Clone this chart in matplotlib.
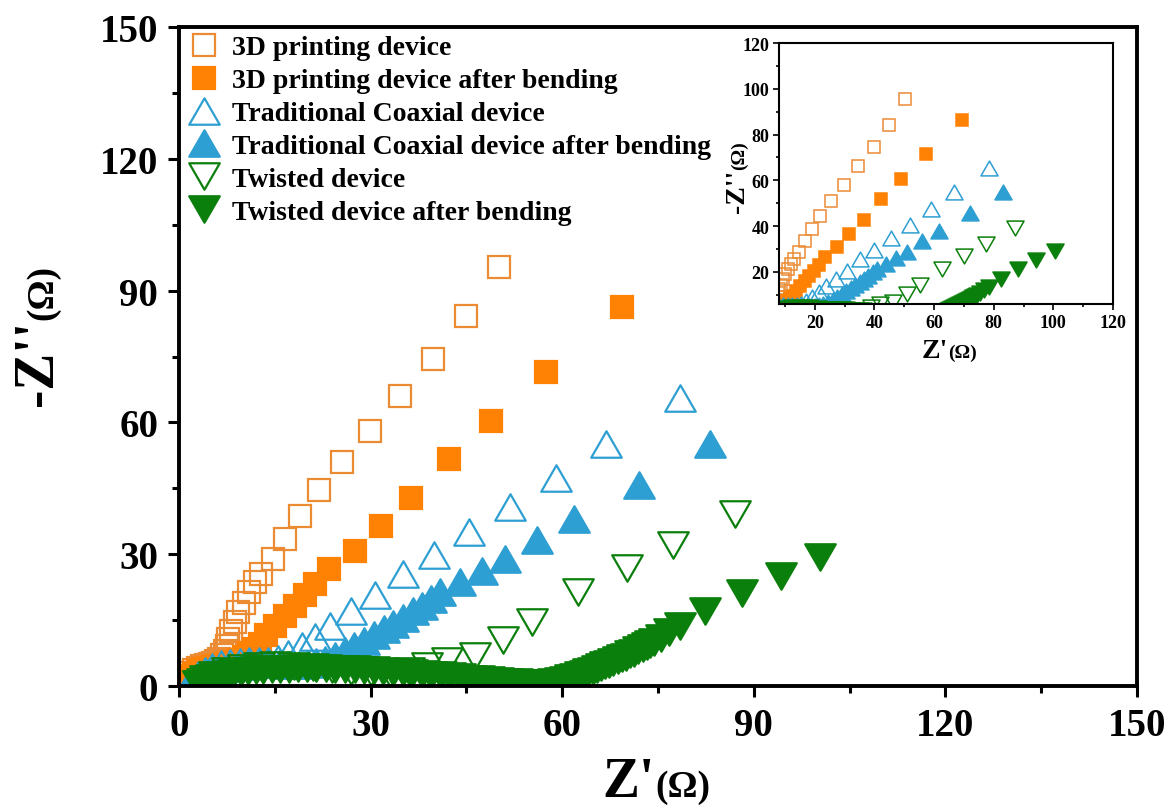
import matplotlib
matplotlib.use("Agg")
import matplotlib.pyplot as plt
import matplotlib.path as mpath
from matplotlib.ticker import MultipleLocator

plt.rcParams['font.family'] = ['Liberation Serif', 'DejaVu Serif']
plt.rcParams['font.weight'] = 'bold'

# Nyquist data, Z' and -Z'' in ohm
labels = ["3D printing device",
          "3D printing device after bending",
          "Traditional Coaxial device",
          "Traditional Coaxial device after bending",
          "Twisted device",
          "Twisted device after bending"]

print_x = [0.6, 0.9, 1.3, 1.8, 2.4, 3.0, 3.6, 4.2, 4.8, 5.3, 5.8, 6.3, 6.8, 7.2,
           7.5, 7.7, 8.1, 8.7, 9.3, 10.1, 11.0, 11.9, 12.9, 14.7, 16.6, 19.0,
           21.9, 25.6, 29.9, 34.6, 39.7, 44.9, 50.1]
print_y = [0.4, 1.3, 2.2, 3.0, 3.7, 4.2, 4.5, 4.7, 4.9, 5.2, 5.6, 6.2, 7.0, 7.9,
           9.0, 10.7, 12.6, 14.5, 16.8, 19.0, 21.3, 23.6, 25.5, 28.9, 33.5, 38.6,
           44.5, 50.9, 58.1, 66.1, 74.5, 84.3, 95.4]

print_bent_x = [0.8, 1.2, 1.7, 2.3, 3.0, 3.7, 4.5, 5.3, 6.1, 6.9, 7.7, 8.5, 9.3,
                10.2, 11.0, 11.8, 12.7, 13.7, 15.0, 16.6, 18.2, 19.7, 21.3, 23.5,
                27.6, 31.6, 36.4, 42.3, 48.9, 57.4, 69.3]
print_bent_y = [0.3, 1.1, 1.9, 2.7, 3.4, 3.9, 4.2, 4.4, 4.6, 4.8, 5.1, 5.5, 6.0,
                6.7, 7.5, 8.5, 9.6, 11.5, 13.7, 16.0, 18.3, 20.6, 23.2, 26.6,
                30.8, 36.5, 42.9, 51.7, 60.4, 71.5, 86.2]

coax_x = [1.5, 2.2, 3.0, 4.0, 5.2, 6.5, 8.0, 9.5, 11.0, 12.5, 14.0, 15.5, 17.1,
          19.2, 21.3, 23.6, 27.0, 30.7, 35.1, 40.0, 45.4, 51.8, 59.0, 66.8, 78.5]
coax_y = [0.5, 1.6, 2.6, 3.5, 4.3, 4.9, 5.3, 5.5, 5.6, 5.6, 5.7, 6.1, 7.2,
          9.0, 11.2, 13.7, 17.1, 20.6, 25.5, 29.8, 35.0, 40.7, 47.3, 55.1, 65.6]

coax_bent_x = [2.0, 2.8, 3.8, 5.0, 6.3, 7.7, 9.2, 10.8, 12.4, 14.0, 15.6, 17.2,
               18.8, 20.2, 21.5, 22.8, 24.5, 26.0, 27.4, 29.0, 30.5, 32.1, 33.5,
               35.0, 36.6, 38.0, 39.4, 40.8, 44.0, 47.4, 51.0, 56.1, 61.8, 72.0,
               83.1]
coax_bent_y = [0.4, 1.3, 2.2, 3.0, 3.7, 4.2, 4.6, 4.9, 5.0, 5.0, 4.9, 4.8, 4.8,
               5.0, 5.4, 6.0, 6.9, 7.9, 9.0, 10.3, 11.6, 12.9, 14.2, 15.5, 17.0,
               18.3, 19.8, 21.3, 23.6, 26.2, 28.9, 33.3, 38.0, 45.8, 55.1]

twist_x = [3.0, 4.0, 5.5, 7.5, 10.0, 12.5, 15.0, 18.0, 21.0, 24.0, 27.0, 30.0,
           33.0, 36.0, 38.8, 41.9, 46.3, 50.8, 55.2, 62.5, 70.1, 77.4, 87.0]
twist_y = [0.5, 1.6, 2.6, 3.5, 4.2, 4.6, 4.7, 4.6, 4.3, 3.9, 3.5, 3.2,
           3.0, 3.4, 4.6, 5.8, 6.9, 10.4, 14.5, 21.3, 26.8, 32.1, 39.2]

twist_bent_x = [3.0, 3.6, 4.3, 5.0, 5.8, 6.7, 7.6, 8.6, 9.7, 10.8, 12.0, 13.2,
                14.5, 15.8, 17.2, 18.6, 20.0, 21.5, 23.0, 24.5, 26.0, 27.5, 29.0,
                30.5, 32.0, 33.5, 35.0, 36.5, 38.0, 39.5, 41.0, 42.5, 44.0, 45.5,
                47.0, 48.5, 50.0, 51.5, 53.0, 54.5, 56.0, 57.5, 58.6, 59.6, 60.4,
                61.2, 62.0, 62.8, 63.5, 64.1, 64.8, 65.4, 66.1, 66.7, 67.4, 68.0,
                68.7, 69.3, 70.0, 70.6, 71.3, 71.9, 72.6, 73.2, 73.8, 74.4, 75.5,
                76.8, 78.4, 82.4, 88.2, 94.3, 100.4]
twist_bent_y = [0.4, 0.9, 1.4, 1.8, 2.2, 2.5, 2.8, 3.1, 3.3, 3.5, 3.6, 3.7,
                3.8, 3.9, 3.9, 4.0, 4.0, 4.0, 4.0, 3.9, 3.9, 3.8, 3.7,
                3.6, 3.5, 3.3, 3.2, 3.0, 2.8, 2.6, 2.4, 2.2, 2.0, 1.7,
                1.5, 1.3, 1.1, 0.9, 0.8, 0.7, 0.6, 0.7, 0.8, 1.1, 1.4,
                1.8, 2.1, 2.4, 2.7, 3.1, 3.5, 3.9, 4.3, 4.7, 5.1, 5.5,
                5.9, 6.3, 6.7, 7.2, 7.6, 8.1, 8.6, 9.1, 9.5, 10.0, 11.0,
                12.2, 13.6, 17.1, 21.2, 25.1, 29.3]

xs = [print_x, print_bent_x, coax_x, coax_bent_x, twist_x, twist_bent_x]
ys = [print_y, print_bent_y, coax_y, coax_bent_y, twist_y, twist_bent_y]

orange = '#FF8205'
orange_edge = '#EB8C35'
blue = '#2E9FD2'
green = '#0B7F0B'

# equilateral triangles centred on their bounding box
tri_up = mpath.Path([(0, 0.75), (-0.866, -0.75), (0.866, -0.75), (0, 0.75)], closed=True)
tri_dn = mpath.Path([(0, -0.75), (-0.866, 0.75), (0.866, 0.75), (0, -0.75)], closed=True)

styles = [
    dict(marker='s', mfc='none', mec=orange_edge, big=15.5),
    dict(marker='s', mfc=orange, mec=orange, big=15.5),
    dict(marker=tri_up, mfc='none', mec=blue, big=22),
    dict(marker=tri_up, mfc=blue, mec=blue, big=22),
    dict(marker=tri_dn, mfc='none', mec=green, big=22),
    dict(marker=tri_dn, mfc=green, mec=green, big=22),
]

W, H = 1172, 812
fig = plt.figure(figsize=(W / 100, H / 100), dpi=100)
ax = fig.add_axes([179 / W, 1 - 687 / H, 958 / W, 659 / H])

for x, y, lab, st in zip(xs, ys, labels, styles):
    ax.plot(x, y, ls='none', marker=st['marker'], ms=st['big'],
            mfc=st['mfc'], mec=st['mec'], mew=1.6, label=lab)

ax.set_xlim(0, 150)
ax.set_ylim(0, 150)
ax.xaxis.set_major_locator(MultipleLocator(30))
ax.xaxis.set_minor_locator(MultipleLocator(15))
ax.yaxis.set_major_locator(MultipleLocator(30))
ax.yaxis.set_minor_locator(MultipleLocator(15))
ax.tick_params(which='both', direction='out', width=2.2, labelsize=28, pad=7)
ax.tick_params(which='major', length=8)
ax.tick_params(which='minor', length=5)
for sp in ax.spines.values():
    sp.set_linewidth(2.8)
    sp.set_zorder(5)

leg = ax.legend(loc='upper left', bbox_to_anchor=(0.009, 0.988), frameon=False,
                fontsize=20, handlelength=1.2, handletextpad=0.4,
                labelspacing=0.27, borderpad=0, borderaxespad=0, numpoints=1)

# axis titles with a smaller unit part
fig.text(655 / W, 1 - 797 / H, "Z'", fontsize=40, ha='right', va='baseline')
fig.text(655 / W, 1 - 797 / H, "(Ω)", fontsize=27, ha='left', va='baseline')
fig.text(52 / W, 1 - 320 / H, "-Z''", fontsize=40, rotation=90,
         rotation_mode='anchor', ha='right', va='baseline')
fig.text(52 / W, 1 - 320 / H, "(Ω)", fontsize=27, rotation=90,
         rotation_mode='anchor', ha='left', va='baseline')

# inset with the same spectra
ins = fig.add_axes([779 / W, 1 - 305 / H, 334 / W, 261 / H])
for x, y, st in zip(xs, ys, styles):
    ins.plot(x, y, ls='none', marker=st['marker'], ms=st['big'] * 0.56,
             mfc=st['mfc'], mec=st['mec'], mew=1.1)
ins.set_xlim(8, 120)
ins.set_ylim(6, 120)
ins.xaxis.set_major_locator(MultipleLocator(20))
ins.xaxis.set_minor_locator(MultipleLocator(10))
ins.yaxis.set_major_locator(MultipleLocator(20))
ins.yaxis.set_minor_locator(MultipleLocator(10))
ins.tick_params(which='both', direction='out', width=1.2, labelsize=13, pad=3)
ins.tick_params(which='major', length=4)
ins.tick_params(which='minor', length=2.5)
for sp in ins.spines.values():
    sp.set_linewidth(1.5)
fig.text(948 / W, 1 - 358 / H, "Z'", fontsize=20, ha='right', va='baseline')
fig.text(948 / W, 1 - 358 / H, "(Ω)", fontsize=14, ha='left', va='baseline')
fig.text(744 / W, 1 - 170 / H, "-Z''", fontsize=20, rotation=90,
         rotation_mode='anchor', ha='right', va='baseline')
fig.text(744 / W, 1 - 170 / H, "(Ω)", fontsize=14, rotation=90,
         rotation_mode='anchor', ha='left', va='baseline')

fig.savefig("out.png", dpi=100)
